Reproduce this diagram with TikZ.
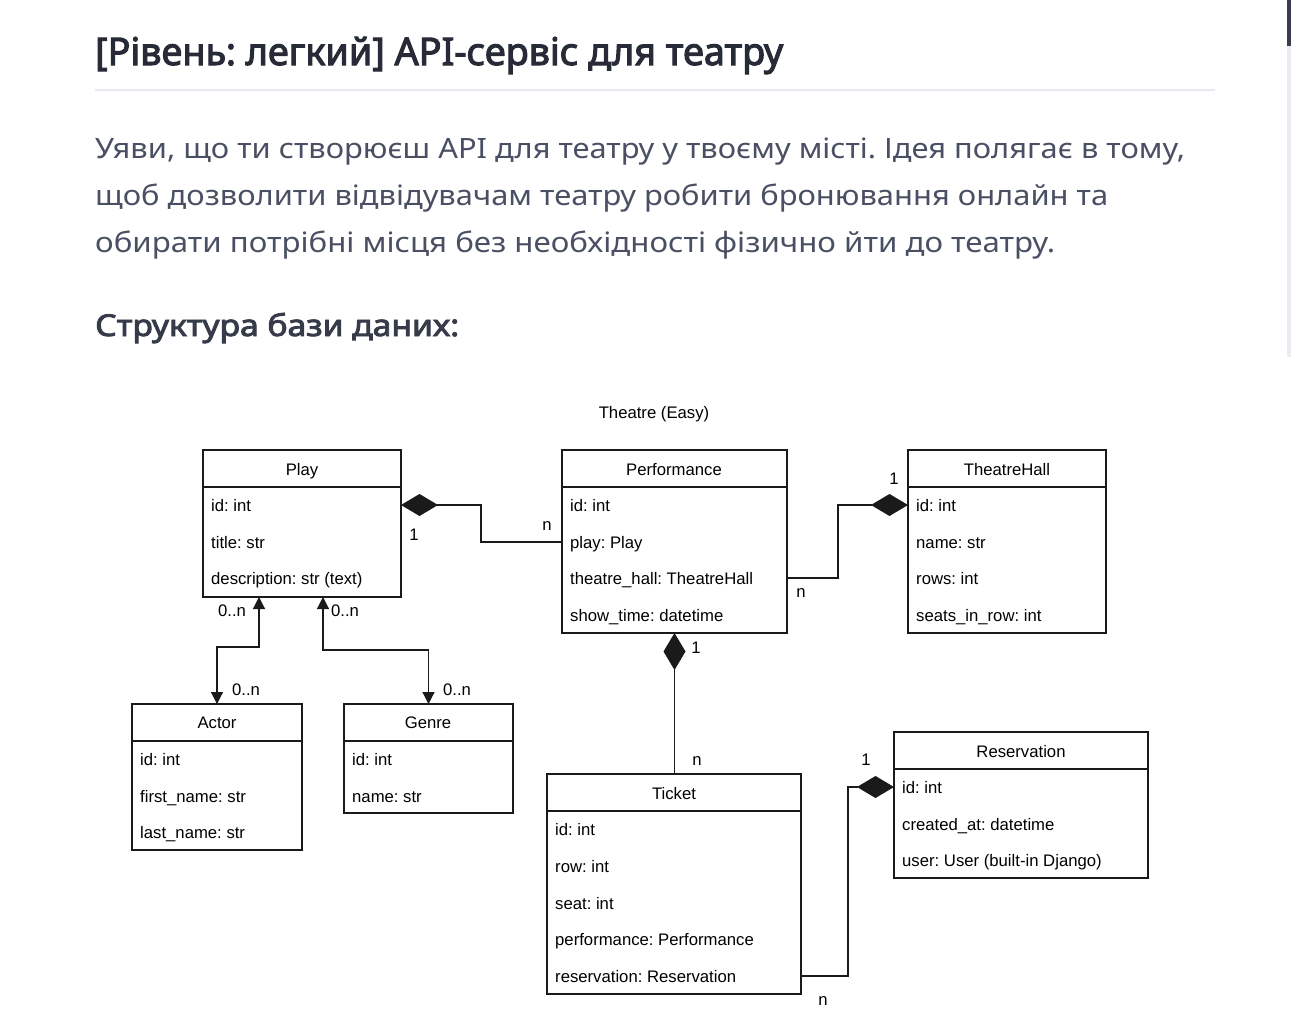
\documentclass[tikz,border=0pt]{standalone}
\usepackage{fontspec}
\usepackage{graphicx}
\setmainfont{Noto Sans}
\newfontfamily\headf{Noto Sans}[FakeBold=2.8]
\newfontfamily\diag{Liberation Sans}
\usetikzlibrary{arrows.meta}
\definecolor{titlec}{HTML}{272B37}
\definecolor{bodyc}{HTML}{4A5063}
\definecolor{htwoc}{HTML}{363B4A}
\definecolor{rulec}{HTML}{E8E9EF}
\definecolor{trackc}{HTML}{EBECF2}
\definecolor{thumbc}{HTML}{393E4F}
\definecolor{linec}{HTML}{1A1A1A}
\begin{document}
\frenchspacing
\begin{tikzpicture}[x=1pt,y=-1pt,
  classbox/.style={draw=linec,line width=1.2pt,anchor=north west,inner sep=0pt,outer sep=0pt},
  dtext/.style={font=\diag\fontsize{16.7}{20}\selectfont,inner sep=0pt,text height=12pt,text depth=0pt},
  hdr/.style={dtext,anchor=center},
  attr/.style={dtext,anchor=west},
  mult/.style={dtext,anchor=center},
  conn/.style={draw=linec,line width=1.2pt},
  comp/.style={conn,{Diamond[length=37pt,width=22pt]}-},
  nav/.style={conn,{Triangle[length=12pt,width=12pt]}-{Triangle[length=12pt,width=12pt]}},
  divline/.style={draw=linec,line width=1.2pt},
  pagetext/.style={anchor=base west,inner sep=0pt}
]
\useasboundingbox[fill=white] (0,0) rectangle (1294,1034);

% page header
\fill[trackc] (1287,0) rectangle (1291,357);
\fill[thumbc] (1287,0) rectangle (1291,46);
\node[pagetext,text=titlec,font=\headf\fontsize{38}{44}\selectfont] (title) at (95,65) {\resizebox{688pt}{\height}{[Рівень: легкий] API-сервіс для театру}};
\draw[rulec,line width=1.5pt] (95,90) -- (1215,90);
\node[pagetext,text=bodyc,font=\fontsize{28}{32}\selectfont] (p1) at (95,158) {\resizebox{1090pt}{\height}{Уяви, що ти створюєш API для театру у твоєму місті. Ідея полягає в тому,}};
\node[pagetext,text=bodyc,font=\fontsize{28}{32}\selectfont] (p2) at (95,205) {\resizebox{1013pt}{\height}{щоб дозволити відвідувачам театру робити бронювання онлайн та}};
\node[pagetext,text=bodyc,font=\fontsize{28}{32}\selectfont] (p3) at (95,252) {\resizebox{960pt}{\height}{обирати потрібні місця без необхідності фізично йти до театру.}};
\node[pagetext,text=htwoc,font=\headf\fontsize{30}{34}\selectfont] (h2) at (95,336) {\resizebox{364pt}{\height}{Структура бази даних:}};

% diagram title
\node[mult] (dtitle) at (654,412) {Theatre (Easy)};

% Play
\node[classbox,minimum width=198pt,minimum height=147pt] (play) at (203,450) {};
\draw[divline] ([yshift=-37pt]play.north west) -- ([yshift=-37pt]play.north east);
\node[hdr] (playh) at (302,469) {Play};
\node[attr] (pid) at (211,505) {id: int};
\node[attr] (ptitle) at (211,542) {title: str};
\node[attr] (pdesc) at (211,578) {description: str (text)};

% Performance
\node[classbox,minimum width=225pt,minimum height=183pt] (perf) at (562,450) {};
\draw[divline] ([yshift=-37pt]perf.north west) -- ([yshift=-37pt]perf.north east);
\node[hdr] (perfh) at (674,469) {Performance};
\node[attr] (fid) at (570,505) {id: int};
\node[attr] (fplay) at (570,542) {play: Play};
\node[attr] (fhall) at (570,578) {theatre\_hall: TheatreHall};
\node[attr] (ftime) at (570,615) {show\_time: datetime};

% TheatreHall
\node[classbox,minimum width=198pt,minimum height=183pt] (hall) at (908,450) {};
\draw[divline] ([yshift=-37pt]hall.north west) -- ([yshift=-37pt]hall.north east);
\node[hdr] (hallh) at (1007,469) {TheatreHall};
\node[attr] (hid) at (916,505) {id: int};
\node[attr] (hname) at (916,542) {name: str};
\node[attr] (hrows) at (916,578) {rows: int};
\node[attr] (hseats) at (916,615) {seats\_in\_row: int};

% Actor
\node[classbox,minimum width=170pt,minimum height=146pt] (actor) at (132,704) {};
\draw[divline] ([yshift=-37pt]actor.north west) -- ([yshift=-37pt]actor.north east);
\node[hdr] (actorh) at (217,722) {Actor};
\node[attr] (aid) at (140,759) {id: int};
\node[attr] (afirst) at (140,796) {first\_name: str};
\node[attr] (alast) at (140,832) {last\_name: str};

% Genre
\node[classbox,minimum width=169pt,minimum height=109pt] (genre) at (344,704) {};
\draw[divline] ([yshift=-37pt]genre.north west) -- ([yshift=-37pt]genre.north east);
\node[hdr] (genreh) at (428,722) {Genre};
\node[attr] (gid) at (352,759) {id: int};
\node[attr] (gname) at (352,796) {name: str};

% Ticket
\node[classbox,minimum width=254pt,minimum height=220pt] (ticket) at (547,774) {};
\draw[divline] ([yshift=-37pt]ticket.north west) -- ([yshift=-37pt]ticket.north east);
\node[hdr] (ticketh) at (674,793) {Ticket};
\node[attr] (tid) at (555,829) {id: int};
\node[attr] (trow) at (555,866) {row: int};
\node[attr] (tseat) at (555,903) {seat: int};
\node[attr] (tperf) at (555,939) {performance: Performance};
\node[attr] (tres) at (555,976) {reservation: Reservation};

% Reservation
\node[classbox,minimum width=254pt,minimum height=146pt] (res) at (894,732) {};
\draw[divline] ([yshift=-37pt]res.north west) -- ([yshift=-37pt]res.north east);
\node[hdr] (resh) at (1021,751) {Reservation};
\node[attr] (rid) at (902,787) {id: int};
\node[attr] (rcreated) at (902,824) {created\_at: datetime};
\node[attr] (ruser) at (902,860) {user: User (built-in Django)};

% connectors
\draw[comp] (play.east |- pid) -- ++(80,0) |- (perf.west |- fplay);
\draw[comp] (hall.west |- hid) -- ++(-70,0) |- (perf.east |- fhall);
\draw[comp] (perf.south) -- (perf.south |- ticket.north);
\draw[comp] (res.west |- rid) -- ++(-46,0) |- (ticket.east |- tres);
\draw[nav] ([xshift=56pt]play.south west) -- ++(0,50) -| (actor.north);
\draw[nav] ([xshift=120pt]play.south west) -- ++(0,53) -| (genre.north);

% multiplicities
\node[mult] (m1) at (414,534) {1};
\node[mult] (m2) at (547,524) {n};
\node[mult] (m3) at (801,591) {n};
\node[mult] (m4) at (894,478) {1};
\node[mult] (m5) at (696,647) {1};
\node[mult] (m6) at (697,759) {n};
\node[mult] (m7) at (866,759) {1};
\node[mult] (m8) at (823,999) {n};
\node[mult] (m9) at (232,610) {0..n};
\node[mult] (m10) at (345,610) {0..n};
\node[mult] (m11) at (246,689) {0..n};
\node[mult] (m12) at (457,689) {0..n};
\end{tikzpicture}
\end{document}
